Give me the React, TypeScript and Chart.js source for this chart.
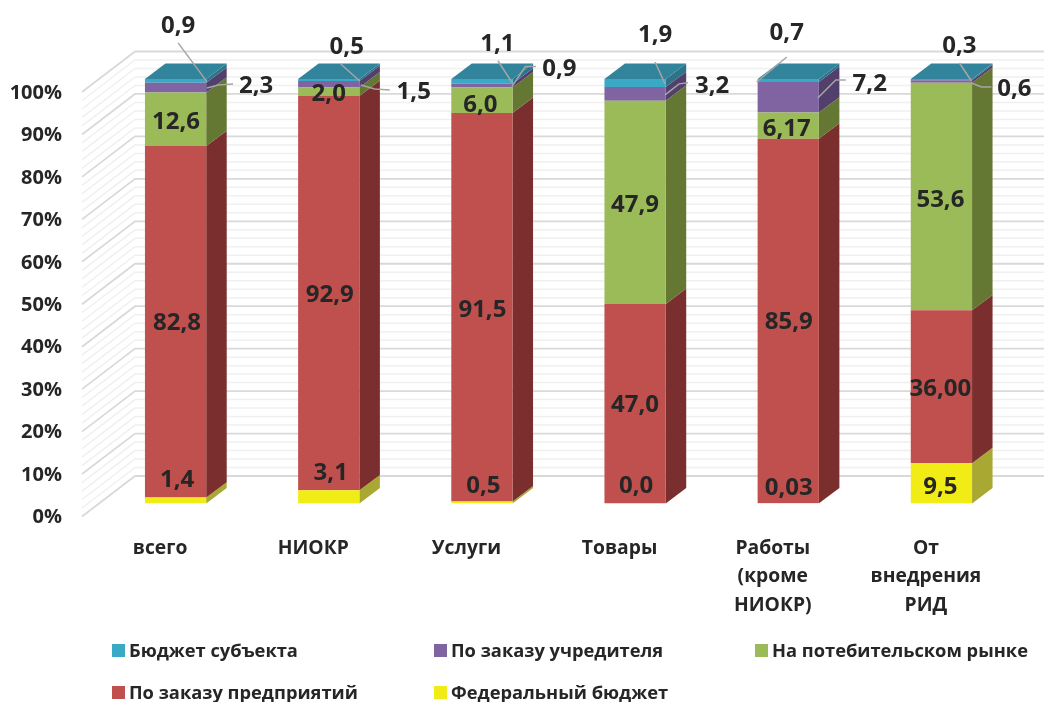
import React, { useEffect, useRef } from "react";
import { Chart, registerables } from "chart.js";

Chart.register(...registerables);

// Categories and the share of each funding source, in percent
const categories: (string | string[])[] = [
  "всего",
  "НИОКР",
  "Услуги",
  "Товары",
  ["Работы", "(кроме", "НИОКР)"],
  ["От", "внедрения", "РИД"],
];
const federalBudget = [1.4, 3.1, 0.5, 0.0, 0.03, 9.5];
const enterpriseOrders = [82.8, 92.9, 91.5, 47.0, 85.9, 36.0];
const consumerMarket = [12.6, 2.0, 6.0, 47.9, 6.17, 53.6];
const founderOrders = [2.3, 1.5, 0.9, 3.2, 7.2, 0.6];
const regionalBudget = [0.9, 0.5, 1.1, 1.9, 0.7, 0.3];

// Fraction digits of the printed values
const federalDigits = [1, 1, 1, 1, 2, 1];
const enterpriseDigits = [1, 1, 1, 1, 1, 2];
const marketDigits = [1, 1, 1, 1, 2, 1];
const founderDigits = [1, 1, 1, 1, 1, 1];
const regionalDigits = [1, 1, 1, 1, 1, 1];

const FONT = "'Open Sans', 'Noto Sans', sans-serif";
const INK = "#262626";

// Extrusion of every bar and of the left wall
const BAR_DX = 20.5;
const BAR_DY = -15.4;
const WALL_LEFT = 82;
const WALL_BACK = 135;
const WALL_FRONT_SHIFT = 13;
const WALL_BACK_SHIFT = -27.5;

type Series = {
  label: string;
  data: number[];
  digits: number[];
  front: string;
  side: string;
  // label offset from the bar centre and the middle of the segment
  offsets: [number, number][];
  // optional callout polylines, same origin as the offsets
  leaders?: [number, number][][];
};

const series: Series[] = [
  {
    label: "Федеральный бюджет",
    data: federalBudget,
    digits: federalDigits,
    front: "#F2EC16",
    side: "#A8A832",
    offsets: [[1.5, -21.5], [2, -25], [1.5, -18], [1, -18.5], [0.5, -17], [-1, 2]],
  },
  {
    label: "По заказу предприятий",
    data: enterpriseOrders,
    digits: enterpriseDigits,
    front: "#C0504D",
    side: "#7B2E2E",
    offsets: [[1.5, 0], [1, 0], [0.5, 1], [0, 0], [0.5, 0], [-1, 1]],
  },
  {
    label: "На потебительском рынке",
    data: consumerMarket,
    digits: marketDigits,
    front: "#9BBB59",
    side: "#647733",
    offsets: [[0.5, 1], [0, 0.5], [-1.5, 3.5], [0, 1.5], [-1.5, 2.5], [-1, 2.5]],
  },
  {
    label: "По заказу учредителя",
    data: founderOrders,
    digits: founderDigits,
    front: "#8064A2",
    side: "#533F6B",
    offsets: [[80.5, -2.7], [85, 6.7], [77.5, -17.6], [77, -9], [81.5, -15], [73, 6.5]],
    leaders: [
      [[31.5, 0.3], [42.5, -2.7], [57.5, -3.7]],
      [[32, 0.7], [46, 4.7], [61, 5.7]],
      [[30, 1], [43.5, -19], [54, -19]],
      [[30, 1], [44, -10], [53, -11]],
      [[29.5, 0.7], [47.5, -17.3], [57.5, -17.3]],
      [[30, 1.5], [40, 5.5], [50, 5.5]],
    ],
  },
  {
    label: "Бюджет субъекта",
    data: regionalBudget,
    digits: regionalDigits,
    front: "#3AA9C5",
    side: "#2D7389",
    offsets: [[2.5, -56], [18, -34], [15.5, -38.6], [20, -49], [-1.5, -48.5], [18, -35]],
    leaders: [
      [[31.5, 1], [2.5, -38]],
      [[31, 1], [12, -16]],
      [[30, 1], [16, -20.6]],
      [[30, 1], [20, -21]],
      [[-31.5, 1.5], [-1.5, -23.5]],
      [[30, 1.4], [18, -16.6]],
    ],
  },
];

const TOP_FACE = "#31849B";

// Legend cells in reading order: [series index, swatch x, swatch y]
const legendCells: [number, number, number][] = [
  [4, 112, 644],
  [3, 434, 644],
  [2, 755, 644],
  [1, 112, 686],
  [0, 434, 686],
];

const quad = (
  ctx: CanvasRenderingContext2D,
  pts: [number, number][],
  fill: string
) => {
  ctx.beginPath();
  pts.forEach(([x, y], i) => (i ? ctx.lineTo(x, y) : ctx.moveTo(x, y)));
  ctx.closePath();
  ctx.fillStyle = fill;
  ctx.fill();
};

// Back wall and left wall with major and minor rulings
const wallPlugin = {
  id: "walls",
  beforeDatasetsDraw(chart: any) {
    const { ctx, scales, width } = chart;
    const y = scales.y;
    ctx.save();
    for (let v = 0; v <= 100; v += 2) {
      const major = v % 10 === 0;
      const py = y.getPixelForValue(v);
      ctx.strokeStyle = major ? "#D9D9D9" : "#F0F0F0";
      ctx.lineWidth = major ? 1.8 : 1.5;
      ctx.beginPath();
      ctx.moveTo(WALL_LEFT, py + WALL_FRONT_SHIFT);
      ctx.lineTo(WALL_BACK, py + WALL_BACK_SHIFT);
      ctx.lineTo(width, py + WALL_BACK_SHIFT);
      ctx.stroke();
    }
    ctx.restore();
  },
};

// Side and top faces of the stacked columns
const extrudePlugin = {
  id: "extrude",
  beforeDatasetsDraw(chart: any) {
    const { ctx } = chart;
    ctx.save();
    series.forEach((s, si) => {
      chart.getDatasetMeta(si).data.forEach((bar: any) => {
        const right = bar.x + bar.width / 2;
        const top = Math.min(bar.y, bar.base);
        const bottom = Math.max(bar.y, bar.base);
        if (bottom - top > 0.01) {
          quad(
            ctx,
            [
              [right, bottom],
              [right + BAR_DX, bottom + BAR_DY],
              [right + BAR_DX, top + BAR_DY],
              [right, top],
            ],
            s.side
          );
        }
        if (si === series.length - 1) {
          const left = bar.x - bar.width / 2;
          quad(
            ctx,
            [
              [left, top],
              [left + BAR_DX, top + BAR_DY],
              [right + BAR_DX, top + BAR_DY],
              [right, top],
            ],
            TOP_FACE
          );
        }
      });
    });
    ctx.restore();
  },
};

// Printed values and their callout lines
const valuePlugin = {
  id: "values",
  afterDatasetsDraw(chart: any) {
    const { ctx } = chart;
    ctx.save();
    series.forEach((s, si) => {
      chart.getDatasetMeta(si).data.forEach((bar: any, i: number) => {
        const midY = (bar.y + bar.base) / 2;
        const path = s.leaders?.[i];
        if (path) {
          ctx.strokeStyle = "#A6A6A6";
          ctx.lineWidth = 1.5;
          ctx.beginPath();
          path.forEach(([dx, dy], k) =>
            k ? ctx.lineTo(bar.x + dx, midY + dy) : ctx.moveTo(bar.x + dx, midY + dy)
          );
          ctx.stroke();
        }
        const [dx, dy] = s.offsets[i];
        ctx.font = `bold 24px ${FONT}`;
        ctx.fillStyle = INK;
        ctx.textAlign = "center";
        ctx.textBaseline = "middle";
        ctx.fillText(
          s.data[i].toFixed(s.digits[i]).replace(".", ","),
          bar.x + dx,
          midY + dy + 1.5
        );
      });
    });
    ctx.restore();
  },
};

// Legend laid out on a fixed three-column grid
const legendPlugin = {
  id: "gridLegend",
  afterDraw(chart: any) {
    const { ctx } = chart;
    ctx.save();
    legendCells.forEach(([si, x, y]) => {
      ctx.fillStyle = series[si].front;
      ctx.fillRect(x, y, 13, 13);
      ctx.font = `bold 18.3px ${FONT}`;
      ctx.fillStyle = INK;
      ctx.textAlign = "left";
      ctx.textBaseline = "middle";
      ctx.fillText(chart.data.datasets[si].label, x + 17, y + 7.5);
    });
    ctx.restore();
  },
};

export default function App() {
  const canvasRef = useRef<HTMLCanvasElement>(null);

  useEffect(() => {
    const chart = new Chart(canvasRef.current!, {
      type: "bar",
      data: {
        labels: categories as any,
        datasets: series.map((s) => ({
          label: s.label,
          data: s.data,
          backgroundColor: s.front,
          borderWidth: 0,
          categoryPercentage: 1,
          barPercentage: 0.4,
        })),
      },
      options: {
        responsive: false,
        animation: false,
        layout: { padding: { left: 0, top: 79, right: 26, bottom: 0 } },
        plugins: { legend: { display: false }, tooltip: { enabled: false } },
        scales: {
          x: {
            stacked: true,
            grid: { display: false, drawTicks: false },
            border: { display: false },
            ticks: {
              autoSkip: false,
              maxRotation: 0,
              minRotation: 0,
              labelOffset: -15.5,
              padding: 30.5,
              color: INK,
              font: { family: FONT, size: 19.3, weight: "bold", lineHeight: 1.48 },
            },
            afterFit(scale: any) {
              scale.height = 198.5;
            },
          },
          y: {
            stacked: true,
            min: 0,
            max: 100,
            grid: { display: false, drawTicks: false },
            border: { display: false },
            ticks: {
              stepSize: 10,
              padding: 37,
              labelOffset: 14,
              color: INK,
              font: { family: FONT, size: 20, weight: "bold" },
              callback: (v: any) => `${v}%`,
            },
            afterFit(scale: any) {
              scale.width = 99;
            },
          },
        },
      } as any,
      plugins: [wallPlugin, extrudePlugin, valuePlugin, legendPlugin],
    });
    return () => chart.destroy();
  }, []);

  return (
    <div style={{ position: "fixed", left: 0, top: 0, width: 1044, height: 702, background: "#fff" }}>
      <canvas ref={canvasRef} width={1044} height={702} style={{ display: "block" }} />
    </div>
  );
}
